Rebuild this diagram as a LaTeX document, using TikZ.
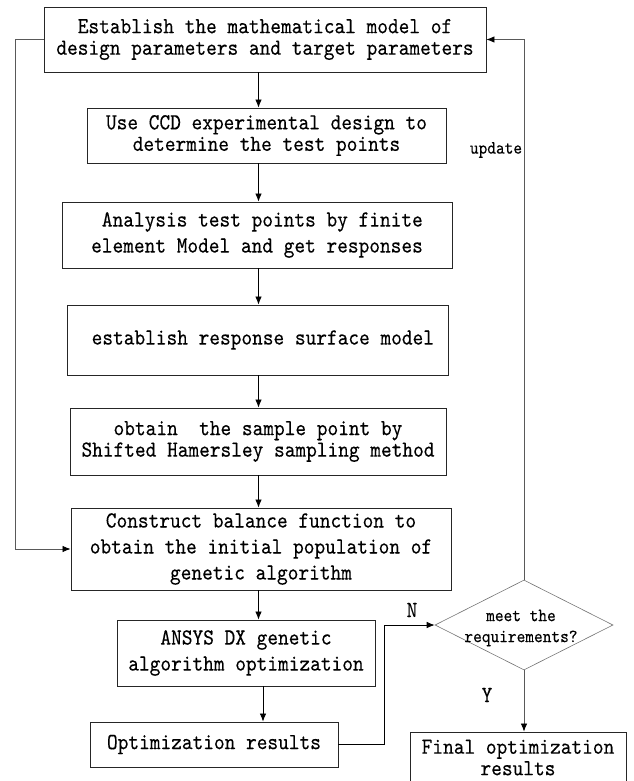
\documentclass[tikz,border=0pt]{standalone}
\usepackage{fontspec}
\newfontfamily\flowfont[Extension=.otf, FakeStretch=0.886, FakeBold=0.25]{lmmono10-regular}
\usetikzlibrary{shapes.geometric,arrows.meta}
\tikzset{
  box/.style={draw=black!85, line width=0.9pt, align=center, inner sep=0pt,
    font=\flowfont\fontsize{23}{21.5}\selectfont},
  wide/.style={font=\flowfont\fontsize{23}{26}\selectfont},
  lbl/.style={inner sep=0pt, font=\flowfont\fontsize{23}{21.5}\selectfont},
  small/.style={inner sep=0pt, align=center, font=\flowfont\fontsize{18.7}{21}\selectfont},
  arr/.style={-{Latex[length=8pt,width=6.5pt,color=black]}, line width=0.8pt},
  back/.style={arr, draw=black!65},
}
\begin{document}
\begin{tikzpicture}[x=1pt,y=-1pt]
    \useasboundingbox (0,0) rectangle (633,781);
    % main column
    \node[box, minimum width=442, minimum height=65] (estab) at (265,39.5) {Establish the mathematical model of\\design parameters and target parameters};
    \node[box, minimum width=359, minimum height=55] (ccd) at (266.5,135.5) {Use CCD experimental design to\\determine the test points};
    \node[box, wide, minimum width=390, minimum height=66] (fem) at (257,235) {\ Analysis test points by finite\\element Model and get responses};
    \node[box, minimum width=381, minimum height=70] (rsm) at (257.5,340) {\ establish response surface model};
    \node[box, minimum width=376, minimum height=67] (sample) at (258,441.5) {obtain\ \ the sample point by\\Shifted Hamersley sampling method};
    \node[box, wide, minimum width=380, minimum height=82] (balance) at (261,549) {Construct balance function to\\obtain the initial population of\\genetic algorithm};
    \node[box, wide, minimum width=258, minimum height=66] (ga) at (246,653) {ANSYS DX genetic\\algorithm optimization};
    \node[box, minimum width=248, minimum height=45] (optres) at (214,744.5) {Optimization results};
    % decision
    \node[diamond, draw=black!55, line width=0.6pt, minimum width=178, minimum height=90, inner sep=0pt] (dec) at (524,625) {};
    \node[small] (dectxt) at (521,628) {meet the\\requirements?};
    \node[box, minimum width=216, minimum height=51] (final) at (518,757.5) {Final optimization\\results};
    % labels
    \node[small] (upd) at (496,150) {update};
    \node[lbl] (no) at (412,610) {N};
    \node[lbl] (yes) at (487,695) {Y};
    % connectors
    \coordinate (axis) at (258.5,0);
    \coordinate (axisb) at (263,0);
    \coordinate (leftx) at (15.3,0);
    \foreach \a/\b in {estab/ccd,ccd/fem,fem/rsm,rsm/sample,sample/balance,balance/ga}
        \draw[arr] (\a.south -| axis) -- (\b.north -| axis);
    \draw[arr] (ga.south -| axisb) -- (optres.north -| axisb);
    \draw[back] (estab.west) -- (estab.west -| leftx) |- (balance.west);
    \draw[arr] (optres.east) -- ++(46,0) |- (dec.west);
    \draw[back] (dec.north) |- (estab.east);
    \draw[back] (dec.south) -- (dec.south |- final.north);
\end{tikzpicture}
\end{document}
